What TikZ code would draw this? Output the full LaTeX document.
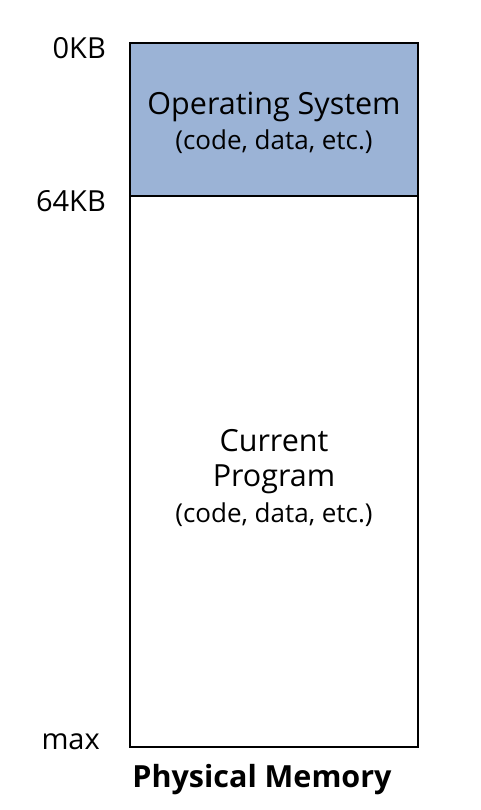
\documentclass[tikz,border=0pt]{standalone}
\usepackage{fontspec}
\setmainfont{Open Sans}
\definecolor{osblue}{HTML}{9BB3D6}
\begin{document}
\begin{tikzpicture}[x=1pt,y=-1pt,
  lbl/.style={anchor=east,font=\fontsize{29}{34}\selectfont,inner sep=0pt},
  big/.style={font=\fontsize{30.5}{36}\selectfont,align=center,inner sep=0pt},
  small/.style={font=\fontsize{26}{30}\selectfont,align=center,inner sep=0pt}]
\useasboundingbox (0,0) rectangle (480,810);
\fill[osblue] (130,43) rectangle (418,196);
\draw[line width=1.5pt] (130,43) rectangle (418,747);
\draw[line width=1.5pt] (130,196) -- (418,196);
\node[big] (os) at (274,107) {Operating System};
\node[small] (osd) at (274,142) {(code, data, etc.)};
\node[big] (cp1) at (274,441) {Current};
\node[big] (cp2) at (274,479) {Program};
\node[small] (cpd) at (274,515) {(code, data, etc.)};
\node[lbl] (k0) at (106,48) {0KB};
\node[lbl] (k64) at (106,201) {64KB};
\node[lbl] (mx) at (100,742) {max};
\node[font=\fontsize{30.5}{36}\selectfont\bfseries,inner sep=0pt] (pm) at (262,780) {Physical Memory};
\end{tikzpicture}
\end{document}
